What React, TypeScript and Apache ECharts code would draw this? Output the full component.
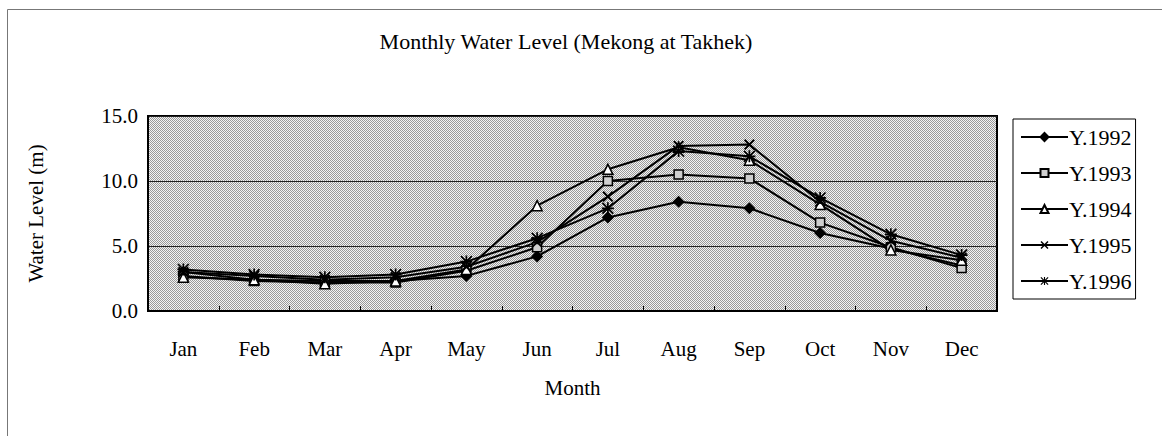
import React, { useEffect, useRef } from "react";
import * as echarts from "echarts";

const months = ["Jan", "Feb", "Mar", "Apr", "May", "Jun", "Jul", "Aug", "Sep", "Oct", "Nov", "Dec"];
const y1992 = [3.0, 2.4, 2.3, 2.3, 2.7, 4.2, 7.2, 8.4, 7.9, 6.0, 4.8, 3.5];
const y1993 = [2.7, 2.3, 2.2, 2.2, 3.1, 4.9, 10.0, 10.5, 10.2, 6.8, 4.9, 3.3];
const y1994 = [2.6, 2.4, 2.1, 2.3, 3.2, 8.1, 10.9, 12.6, 11.6, 8.2, 4.7, 3.9];
const y1995 = [3.0, 2.7, 2.4, 2.6, 3.4, 5.3, 8.8, 12.7, 12.8, 8.4, 5.4, 4.1];
const y1996 = [3.2, 2.8, 2.6, 2.8, 3.8, 5.6, 7.9, 12.3, 11.9, 8.7, 5.9, 4.3];
const yTicks = [0, 5, 10, 15];

const FONT = "'Liberation Serif', 'Times New Roman', serif";

const CROSS =
  "path://M1.3,0L10,8.7L8.7,10L0,1.3Z M8.7,0L10,1.3L1.3,10L0,8.7Z";
const STAR =
  "path://M4.3,0H5.7V10H4.3Z M0,4.3H10V5.7H0Z M1,0L10,9L9,10L0,1Z M9,0L10,1L1,10L0,9Z";

export default function App() {
  const ref = useRef<HTMLDivElement>(null);
  useEffect(() => {
    document.body.style.margin = "0";
    if (!ref.current) return;
    const chart = echarts.init(ref.current, undefined, { renderer: "svg" });

    const cv = document.createElement("canvas");
    cv.width = 2;
    cv.height = 2;
    const ctx = cv.getContext("2d")!;
    ctx.fillStyle = "#f4f4f4";
    ctx.fillRect(0, 0, 2, 2);
    ctx.fillStyle = "#999999";
    ctx.fillRect(0, 0, 1, 1);
    ctx.fillRect(1, 1, 1, 1);

    const base = {
      type: "line",
      lineStyle: { color: "#000", width: 2 },
      itemStyle: { color: "#000", borderColor: "#000", borderWidth: 1.5 },
      showSymbol: true,
    };

    chart.setOption({
      animation: false,
      backgroundColor: "#fff",
      textStyle: { fontFamily: FONT, color: "#000" },
      graphic: [
        {
          type: "rect",
          shape: { x: 7.5, y: 9.5, width: 1200, height: 1000 },
          style: { fill: "none", stroke: "#777", lineWidth: 1 },
          silent: true,
          z: -10,
        },
        {
          type: "text",
          x: 566,
          y: 41,
          style: {
            text: "Monthly Water Level (Mekong at Takhek)",
            font: `22px ${FONT}`,
            fill: "#000",
            textAlign: "center",
            textVerticalAlign: "middle",
          },
        },
      ],
      grid: {
        left: 148,
        right: 165,
        top: 116,
        bottom: 125,
        show: true,
        borderColor: "#000",
        borderWidth: 2,
        backgroundColor: { image: cv, repeat: "repeat" },
      },
      legend: {
        orient: "vertical",
        left: 1013,
        top: 119,
        itemWidth: 47,
        itemHeight: 10,
        itemGap: 14,
        padding: [7, 4, 7, 7],
        borderColor: "#000",
        borderWidth: 1,
        backgroundColor: "#fff",
        textStyle: { fontSize: 22, fontFamily: FONT, color: "#000", padding: [0, 0, 0, -4] },
        data: ["Y.1992", "Y.1993", "Y.1994", "Y.1995", "Y.1996"],
      },
      xAxis: {
        type: "category",
        data: months,
        boundaryGap: true,
        name: "Month",
        nameLocation: "middle",
        nameGap: 66,
        nameTextStyle: { fontSize: 21, fontFamily: FONT, color: "#000" },
        axisLine: { lineStyle: { color: "#000", width: 2 } },
        axisTick: { show: true, inside: true, length: 5, lineStyle: { color: "#000" } },
        axisLabel: { fontSize: 21, fontFamily: FONT, color: "#000", margin: 27 },
        splitLine: { show: false },
      },
      yAxis: {
        type: "value",
        min: yTicks[0],
        max: yTicks[yTicks.length - 1],
        interval: 5,
        name: "Water Level (m)",
        nameLocation: "middle",
        nameRotate: 90,
        nameGap: 102,
        nameTextStyle: { fontSize: 21, fontFamily: FONT, color: "#000" },
        axisLine: { show: true, lineStyle: { color: "#000", width: 2 } },
        axisTick: { show: false },
        axisLabel: {
          fontSize: 21,
          fontFamily: FONT,
          color: "#000",
          margin: 10,
          formatter: (v: number) => v.toFixed(1),
        },
        splitLine: { show: true, lineStyle: { color: "#222", width: 1 } },
      },
      series: [
        { ...base, name: "Y.1992", data: y1992, symbol: "diamond", symbolSize: 10 },
        {
          ...base,
          name: "Y.1993",
          data: y1993,
          symbol: "rect",
          symbolSize: 9,
          itemStyle: { color: "#cfcfcf", borderColor: "#000", borderWidth: 1.5 },
        },
        {
          ...base,
          name: "Y.1994",
          data: y1994,
          symbol: "triangle",
          symbolSize: 10,
          itemStyle: { color: "#fff", borderColor: "#000", borderWidth: 1.5 },
        },
        {
          ...base,
          name: "Y.1995",
          data: y1995,
          symbol: CROSS,
          symbolSize: 11,
          itemStyle: { color: "#000", borderWidth: 0 },
        },
        {
          ...base,
          name: "Y.1996",
          data: y1996,
          symbol: STAR,
          symbolSize: 12,
          itemStyle: { color: "#000", borderWidth: 0 },
        },
      ],
    });
    return () => chart.dispose();
  }, []);
  return <div ref={ref} style={{ width: 1162, height: 436 }} />;
}
